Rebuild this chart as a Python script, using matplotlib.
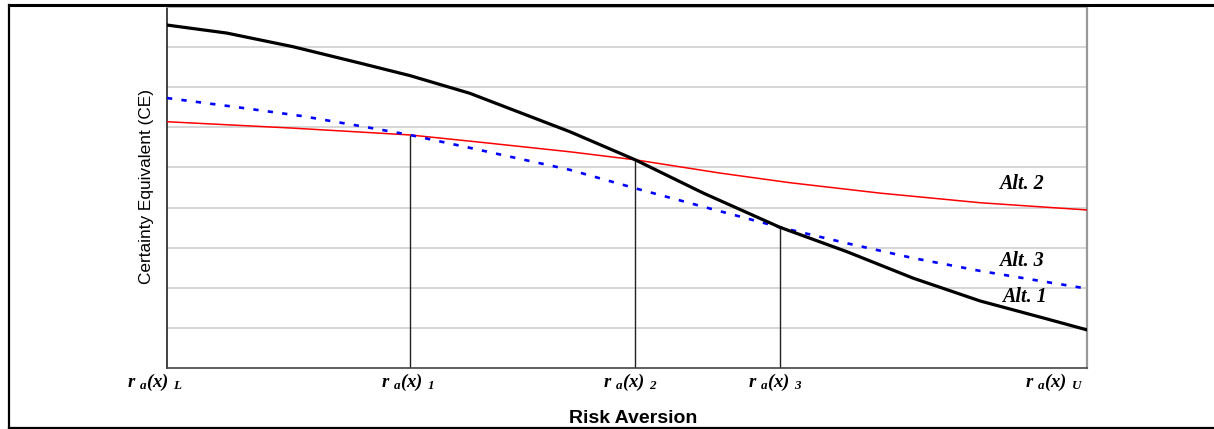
import matplotlib
matplotlib.use("Agg")
import matplotlib.pyplot as plt
from matplotlib.lines import Line2D
from matplotlib.transforms import offset_copy
from matplotlib import font_manager

# risk aversion positions (0 = r_a(x)_L, 1 = r_a(x)_U), CE values
x_alt1 = [0.0, 0.065, 0.137, 0.210, 0.264, 0.329, 0.438, 0.509, 0.583, 0.666, 0.739, 0.811, 0.884, 0.957, 1.0]
alt1 = [8.55, 8.35, 8.01, 7.60, 7.29, 6.85, 5.89, 5.19, 4.36, 3.51, 2.90, 2.24, 1.67, 1.22, 0.95]

x_alt2 = [0.0, 0.137, 0.264, 0.340, 0.438, 0.509, 0.601, 0.677, 0.775, 0.884, 1.0]
alt2 = [6.14, 5.98, 5.81, 5.63, 5.39, 5.19, 4.86, 4.62, 4.36, 4.12, 3.94]

x_alt3 = [0.0, 0.077, 0.147, 0.213, 0.264, 0.329, 0.438, 0.509, 0.583, 0.666, 0.739, 0.811, 0.884, 0.957, 1.0]
alt3 = [6.73, 6.50, 6.28, 6.02, 5.81, 5.49, 4.94, 4.48, 4.02, 3.51, 3.11, 2.74, 2.42, 2.14, 1.98]

cross_x = [0.264, 0.509, 0.666]
cross_y = [5.81, 5.19, 3.51]

tick_pos = [0.0, 0.264, 0.509, 0.666, 1.0]
tick_sub = ["L", "1", "2", "3", "U"]
tick_shift = [-12, -2, -5, -5, -33]   # label offsets in px

names = {f.name for f in font_manager.fontManager.ttflist}
narrow = "Liberation Sans Narrow" if "Liberation Sans Narrow" in names else "Liberation Sans"

plt.rcParams["mathtext.fontset"] = "custom"
plt.rcParams["mathtext.it"] = "Liberation Serif:italic:bold"
plt.rcParams["mathtext.rm"] = "Liberation Serif:italic:bold"
plt.rcParams["mathtext.bf"] = "Liberation Serif:italic:bold"

fig = plt.figure(figsize=(12.14, 4.29), dpi=100)
ax = fig.add_axes([167/1214, 1 - 368/429, 920/1214, 361/429])
ax.set_xlim(0, 1)
ax.set_ylim(0, 9)

for g in range(1, 9):
    ax.axhline(g, color="#cccccc", lw=1.1, zorder=0)

ax.plot(x_alt2, alt2, color="#ff0000", lw=1.1, zorder=3)
ax.plot(x_alt3, alt3, color="#0000ff", lw=1.9, dashes=(2, 3.5), zorder=3)
ax.plot(x_alt1, alt1, color="black", lw=2.3, zorder=4, solid_joinstyle="round")
ax.vlines(cross_x, 0, cross_y, color="#222222", lw=1.0, zorder=2)

ax.set_xticks([])
ax.set_yticks([])
ax.spines["left"].set_color("#222222")
ax.spines["left"].set_linewidth(1.2)
ax.spines["bottom"].set_color("#444444")
ax.spines["bottom"].set_linewidth(1.2)
ax.spines["right"].set_color("#999999")
ax.spines["right"].set_linewidth(1.6)
ax.spines["top"].set_color("#aaaaaa")
ax.spines["top"].set_linewidth(1.2)

for p, s, dx in zip(tick_pos, tick_sub, tick_shift):
    tr = offset_copy(ax.transData, fig=fig, x=dx, y=0, units="dots")
    ax.text(p, -0.1, r"$r\ _{a}(x)\ _{%s}$" % s, transform=tr,
            ha="center", va="top", fontsize=13.5)

alt_kw = dict(ha="center", va="center", fontsize=14.5,
              family="Liberation Serif", style="italic", weight="bold")
ax.text(0.929, 4.59, "Alt. 2", **alt_kw)
ax.text(0.929, 2.67, "Alt. 3", **alt_kw)
ax.text(0.932, 1.76, "Alt. 1", **alt_kw)

fig.text(633/1214, 1 - 418.5/429, "Risk Aversion", ha="center", va="center",
         fontsize=14, family="Liberation Sans", weight="bold")
fig.text(147/1214, 1 - 187/429, "Certainty Equivalent (CE)", ha="center", va="center",
         rotation=90, fontsize=12.4, family=narrow)

# outer frame (open on the right)
fx0, fy0, fy1 = 8.5/1214, 1 - 427.5/429, 1 - 5/429
fig.add_artist(Line2D([fx0, fx0], [fy0, fy1], color="black", lw=1.6, transform=fig.transFigure))
fig.add_artist(Line2D([fx0, 1], [fy1, fy1], color="black", lw=2.2, transform=fig.transFigure))
fig.add_artist(Line2D([fx0, 1], [fy0, fy0], color="black", lw=1.6, transform=fig.transFigure))

fig.savefig("out.png", dpi=100, facecolor="white")
